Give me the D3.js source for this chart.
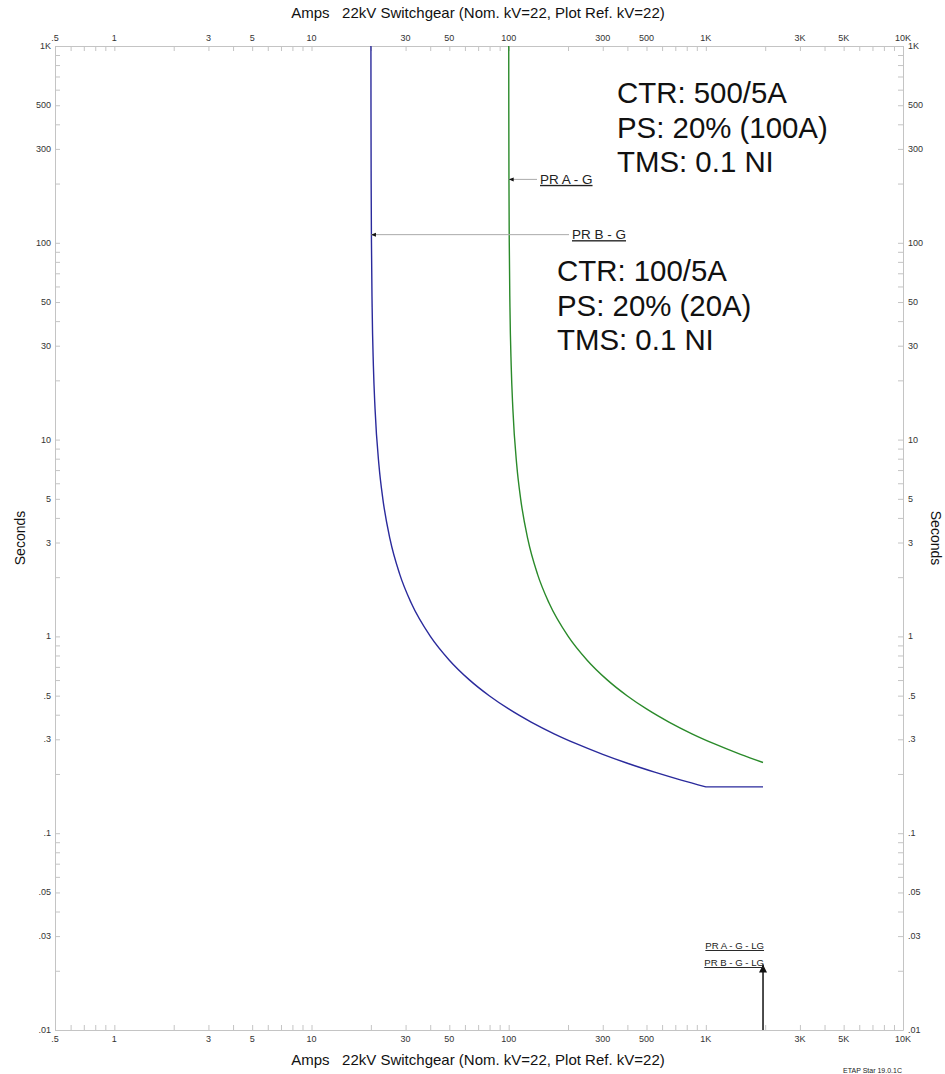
<!DOCTYPE html>
<html><head><meta charset="utf-8">
<script src="https://cdn.jsdelivr.net/npm/d3@7"></script>
<style>body{margin:0;background:#fff}svg{display:block;font-family:"Liberation Sans",Arial,sans-serif}</style>
</head><body><svg id="c" width="945" height="1074"></svg>
<script>
// ---- data ----
const xLabelValues = [0.5, 1, 3, 5, 10, 30, 50, 100, 300, 500, 1000, 3000, 5000, 10000];
const xLabelTexts  = [".5", "1", "3", "5", "10", "30", "50", "100", "300", "500", "1K", "3K", "5K", "10K"];
const yLabelValues = [1000, 500, 300, 100, 50, 30, 10, 5, 3, 1, 0.5, 0.3, 0.1, 0.05, 0.03, 0.01];
const yLabelTexts  = ["1K", "500", "300", "100", "50", "30", "10", "5", "3", "1", ".5", ".3", ".1", ".05", ".03", ".01"];

// PR B - G (CTR 100/5A, pickup 20A, TMS 0.1 NI)
const prBCurrent = [20.014, 20.03, 20.07, 20.14, 20.3, 20.6, 21, 22, 23, 25, 28, 32, 40, 50, 63, 80, 100, 130, 170, 220, 300, 400, 550, 750, 1000, 1950];
const prBTime    = [1000, 467, 200.4, 100.3, 47.0, 23.67, 14.34, 7.338, 5.001, 3.130, 2.073, 1.482, 1.003, 0.757, 0.603, 0.498, 0.428, 0.367, 0.320, 0.285, 0.2516, 0.2267, 0.2043, 0.1862, 0.1720, 0.1720];
// PR A - G (CTR 500/5A, pickup 100A, TMS 0.1 NI)
const prACurrent = [100.07, 100.15, 100.35, 100.7, 101.5, 103, 105, 110, 115, 125, 140, 160, 200, 250, 315, 400, 500, 650, 850, 1100, 1500, 1950];
const prATime    = [1000, 467, 200.4, 100.3, 47.0, 23.67, 14.34, 7.338, 5.001, 3.130, 2.073, 1.482, 1.003, 0.757, 0.603, 0.498, 0.428, 0.367, 0.320, 0.285, 0.2516, 0.2287];

const faultCurrent = 1950;
const faultArrowTop = 0.0215;

const svg = d3.select("#c");
const L = 55, R = 903, T = 46, B = 1030;
const x = d3.scaleLog().domain([0.5, 10000]).range([L, R]);
const y = d3.scaleLog().domain([0.01, 1000]).range([B, T]);

// minor tick values
const xTicks = [], yTicks = [];
for (let e = -1; e <= 4; e++) for (let m = 1; m <= 9; m++) { const v = m * Math.pow(10, e); if (v >= 0.5 - 1e-9 && v <= 10000 + 1e-6) xTicks.push(v); }
for (let e = -2; e <= 3; e++) for (let m = 1; m <= 9; m++) { const v = m * Math.pow(10, e); if (v >= 0.01 - 1e-9 && v <= 1000 + 1e-6) yTicks.push(v); }

const axisCol = "#c4c4c4", txtCol = "#333";
const tl = 5;
function styleAxis(g) {
  g.select(".domain").attr("stroke", axisCol);
  g.selectAll(".tick line").attr("stroke", axisCol);
  g.selectAll(".tick text").remove();
}
svg.append("g").attr("transform", `translate(0,${T})`).call(d3.axisBottom(x).tickValues(xTicks).tickSize(tl).tickSizeOuter(0)).call(styleAxis);
svg.append("g").attr("transform", `translate(0,${B})`).call(d3.axisTop(x).tickValues(xTicks).tickSize(tl).tickSizeOuter(0)).call(styleAxis);
svg.append("g").attr("transform", `translate(${L},0)`).call(d3.axisRight(y).tickValues(yTicks).tickSize(tl).tickSizeOuter(0)).call(styleAxis);
svg.append("g").attr("transform", `translate(${R},0)`).call(d3.axisLeft(y).tickValues(yTicks).tickSize(tl).tickSizeOuter(0)).call(styleAxis);

// tick labels
const fs = 9;
xLabelValues.forEach((v, i) => {
  svg.append("text").attr("x", x(v)).attr("y", T - 5).attr("text-anchor", "middle").attr("font-size", fs).attr("fill", txtCol).text(xLabelTexts[i]);
  svg.append("text").attr("x", x(v)).attr("y", B + 12).attr("text-anchor", "middle").attr("font-size", fs).attr("fill", txtCol).text(xLabelTexts[i]);
});
yLabelValues.forEach((v, i) => {
  svg.append("text").attr("x", L - 4).attr("y", y(v) + 3).attr("text-anchor", "end").attr("font-size", fs).attr("fill", txtCol).text(yLabelTexts[i]);
  svg.append("text").attr("x", R + 5).attr("y", y(v) + 3).attr("text-anchor", "start").attr("font-size", fs).attr("fill", txtCol).text(yLabelTexts[i]);
});

// titles
const title = "Amps   22kV Switchgear (Nom. kV=22, Plot Ref. kV=22)";
svg.append("text").attr("x", 478).attr("y", 18).attr("text-anchor", "middle").attr("font-size", 15).attr("fill", "#111").style("white-space", "pre").text(title);
svg.append("text").attr("x", 478).attr("y", 1065).attr("text-anchor", "middle").attr("font-size", 15).attr("fill", "#111").style("white-space", "pre").text(title);
svg.append("text").attr("transform", "translate(25,538) rotate(-90)").attr("text-anchor", "middle").attr("font-size", 14).attr("fill", "#111").text("Seconds");
svg.append("text").attr("transform", "translate(931,538) rotate(90)").attr("text-anchor", "middle").attr("font-size", 14).attr("fill", "#111").text("Seconds");
svg.append("text").attr("x", 902).attr("y", 1073).attr("text-anchor", "end").attr("font-size", 7).attr("fill", "#222").text("ETAP Star 19.0.1C");

// curves
const smooth = d3.line().x(d => x(d[0])).y(d => y(d[1])).curve(d3.curveMonotoneX);
const straight = d3.line().x(d => x(d[0])).y(d => y(d[1]));
const prB = prBCurrent.map((c, i) => [c, prBTime[i]]);
const prA = prACurrent.map((c, i) => [c, prATime[i]]);
svg.append("path").attr("d", smooth(prB.slice(0, -1)) + straight(prB.slice(-2)).replace(/^M/, "L"))
  .attr("fill", "none").attr("stroke", "#2a2a9c").attr("stroke-width", 1.4);
svg.append("path").attr("d", smooth(prA)).attr("fill", "none").attr("stroke", "#2a8a2a").attr("stroke-width", 1.4);

// arrow markers
const defs = svg.append("defs");
defs.append("marker").attr("id", "ah").attr("viewBox", "0 0 10 10").attr("refX", 10).attr("refY", 5)
  .attr("markerWidth", 5).attr("markerHeight", 5).attr("orient", "auto").attr("markerUnits", "userSpaceOnUse")
  .append("path").attr("d", "M0,1 L10,5 L0,9 z").attr("fill", "#111");
defs.append("marker").attr("id", "ah2").attr("viewBox", "0 0 10 10").attr("refX", 10).attr("refY", 5)
  .attr("markerWidth", 8).attr("markerHeight", 9).attr("orient", "auto").attr("markerUnits", "userSpaceOnUse")
  .append("path").attr("d", "M0,0 L10,5 L0,10 z").attr("fill", "#111");

// labels with leaders
function leader(cur, t, labelX, text) {
  const yy = y(t);
  svg.append("line").attr("x1", labelX - 3).attr("y1", yy).attr("x2", x(cur)).attr("y2", yy)
    .attr("stroke", "#aaa").attr("stroke-width", 1).attr("marker-end", "url(#ah)");
  svg.append("text").attr("x", labelX).attr("y", yy + 4.5).attr("font-size", 13.5).attr("fill", "#222")
    .attr("text-decoration", "underline").text(text);
}
leader(100.02, 210, 540, "PR A - G");
leader(20.02, 110, 572, "PR B - G");

// fault arrow
svg.append("line").attr("x1", x(faultCurrent)).attr("y1", B).attr("x2", x(faultCurrent)).attr("y2", y(faultArrowTop))
  .attr("stroke", "#111").attr("stroke-width", 1.5).attr("marker-end", "url(#ah2)");
svg.append("text").attr("x", x(faultCurrent) + 1).attr("y", 949).attr("text-anchor", "end").attr("font-size", 9.6).attr("fill", "#222").attr("text-decoration", "underline").text("PR A - G - LG");
svg.append("text").attr("x", x(faultCurrent) + 1).attr("y", 966).attr("text-anchor", "end").attr("font-size", 9.6).attr("fill", "#222").attr("text-decoration", "underline").text("PR B - G - LG");

// setting notes
const noteA = ["CTR: 500/5A", "PS: 20% (100A)", "TMS: 0.1 NI"];
const noteB = ["CTR: 100/5A", "PS: 20% (20A)", "TMS: 0.1 NI"];
noteA.forEach((s, i) => svg.append("text").attr("x", 617).attr("y", 103 + i * 34.5).attr("font-size", 29.4).attr("fill", "#111").text(s));
noteB.forEach((s, i) => svg.append("text").attr("x", 557).attr("y", 281 + i * 34.5).attr("font-size", 29.4).attr("fill", "#111").text(s));
</script></body></html>
